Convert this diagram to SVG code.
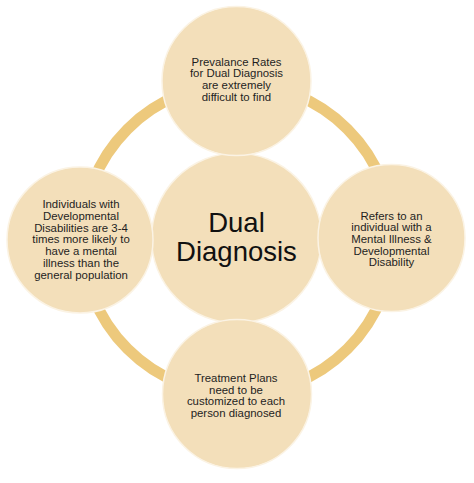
<svg xmlns="http://www.w3.org/2000/svg" width="474" height="483" viewBox="0 0 474 483">
<style>
.ring{fill:none;stroke:#EDC97C;stroke-width:11}
.node{fill:#F3DFBA;stroke:#FBF3E4;stroke-width:1.5}
.t{font-family:"Liberation Sans",Arial,sans-serif;font-size:11.4px;fill:#1E1E1E;text-anchor:middle}
.big{font-family:"Liberation Sans",Arial,sans-serif;font-size:27.5px;fill:#111;text-anchor:middle}
</style>
<rect width="474" height="483" fill="#fff"/>
<g id="connectors">
<circle class="ring" cx="237.5" cy="239" r="155.5"/>
</g>
<g id="center">
<circle class="node" cx="236.5" cy="238" r="85"/>
<text class="big" x="236.5" y="231.5">Dual</text>
<text class="big" x="236.5" y="261">Diagnosis</text>
</g>
<g id="top">
<circle class="node" cx="236.5" cy="81" r="74.5"/>
<text class="t" x="236.5" y="65.5">Prevalance Rates</text>
<text class="t" x="236.5" y="77.3">for Dual Diagnosis</text>
<text class="t" x="236.5" y="89.1">are extremely</text>
<text class="t" x="236.5" y="100.9">difficult to find</text>
</g>
<g id="left">
<circle class="node" cx="80" cy="240" r="73"/>
<text class="t" x="81" y="208">Individuals with</text>
<text class="t" x="81" y="219.8">Developmental</text>
<text class="t" x="81" y="231.6">Disabilities are 3-4</text>
<text class="t" x="81" y="243.4">times more likely to</text>
<text class="t" x="81" y="255.2">have a mental</text>
<text class="t" x="81" y="267">illness than the</text>
<text class="t" x="81" y="278.8">general population</text>
</g>
<g id="right">
<circle class="node" cx="391.5" cy="238" r="73.5"/>
<text class="t" x="391.5" y="219.5">Refers to an</text>
<text class="t" x="391.5" y="231.2">individual with a</text>
<text class="t" x="391.5" y="242.9">Mental Illness &amp;</text>
<text class="t" x="391.5" y="254.6">Developmental</text>
<text class="t" x="391.5" y="266.3">Disability</text>
</g>
<g id="bottom">
<circle class="node" cx="237" cy="394" r="74.5"/>
<text class="t" x="236" y="382">Treatment Plans</text>
<text class="t" x="236" y="393.7">need to be</text>
<text class="t" x="236" y="405.4">customized to each</text>
<text class="t" x="236" y="417.1">person diagnosed</text>
</g>
</svg>
